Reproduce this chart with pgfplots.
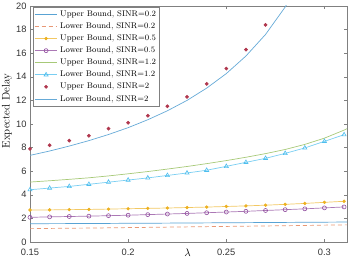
\documentclass[border=0pt]{standalone}
\usepackage{fontspec}
\setsansfont{Liberation Sans}
\usepackage{pgfplots}
\pgfplotsset{compat=1.18}
\definecolor{mblue}{rgb}{0,0.447,0.741}
\definecolor{morange}{rgb}{0.85,0.325,0.098}
\definecolor{myellow}{rgb}{0.929,0.694,0.125}
\definecolor{mpurple}{rgb}{0.494,0.184,0.556}
\definecolor{mgreen}{rgb}{0.466,0.674,0.188}
\definecolor{mcyan}{rgb}{0.301,0.745,0.933}
\definecolor{mred}{rgb}{0.635,0.078,0.184}
\begin{document}
\begin{tikzpicture}
\begin{axis}[
  scale only axis,
  width=317pt, height=236pt,
  xmin=0.15, xmax=0.3115, ymin=0, ymax=20,
  xtick={0.15,0.2,0.25,0.3},
  xticklabels={0.15,0.2,0.25,0.3},
  ytick={0,2,...,20},
  tick align=inside,
  major tick length=3pt,
  axis line style={black!50},
  tick style={black!50, line width=0.4pt},
  /pgf/number format/assume math mode=true,
  tick label style={font=\fontsize{9.3}{10}\sffamily\selectfont, text=black!80},
  xticklabel style={yshift=-3pt},
  xlabel={$\lambda$},
  ylabel={Expected Delay},
  label style={font=\fontsize{11}{12}\selectfont},
  xlabel style={at={(axis description cs:0.497,-0.047)}, anchor=center},
  ylabel style={at={(axis description cs:-0.073,0.555)}, anchor=center},
  legend cell align=left,
  legend style={at={(axis description cs:0.01,0.995)}, anchor=north west,
    font=\fontsize{8.2}{9}\selectfont, draw=black!50, inner sep=1pt,
    nodes={inner sep=2.4pt}},
  legend image code/.code={
    \draw[mark repeat=2,mark phase=2,#1] plot coordinates {(0cm,0cm) (0.4cm,0cm) (0.8cm,0cm)};},
  every axis plot/.append style={line width=0.7pt},
]
% Upper Bound SINR=0.2
\addplot[mblue!65!white, no marks] coordinates {
(0.15,1.55) (0.16,1.555) (0.17,1.56) (0.18,1.57) (0.19,1.575) (0.20,1.585) (0.21,1.59) (0.22,1.60) (0.23,1.61) (0.24,1.62) (0.25,1.63) (0.26,1.64) (0.27,1.65) (0.28,1.66) (0.29,1.67) (0.30,1.68) (0.31,1.69) (0.3115,1.69)};
\addlegendentry{Upper Bound, SINR=0.2}
% Lower Bound SINR=0.2
\addplot[morange!60!white, no marks, dashed, dash pattern=on 4pt off 3pt] coordinates {
(0.15,1.13) (0.16,1.15) (0.17,1.17) (0.18,1.18) (0.19,1.20) (0.20,1.22) (0.21,1.24) (0.22,1.26) (0.23,1.28) (0.24,1.30) (0.25,1.32) (0.26,1.34) (0.27,1.36) (0.28,1.38) (0.29,1.40) (0.30,1.43) (0.31,1.45) (0.3115,1.45)};
\addlegendentry{Lower Bound, SINR=0.2}
% Upper Bound SINR=0.5
\addplot[myellow!70!white, mark=*, mark size=1.3pt, mark options={fill=myellow, draw=myellow}] coordinates {
(0.15,2.71) (0.16,2.72) (0.17,2.74) (0.18,2.76) (0.19,2.79) (0.20,2.82) (0.21,2.85) (0.22,2.88) (0.23,2.92) (0.24,2.96) (0.25,3.01) (0.26,3.06) (0.27,3.12) (0.28,3.19) (0.29,3.27) (0.30,3.36) (0.31,3.45)};
\addlegendentry{Upper Bound, SINR=0.5}
% Lower Bound SINR=0.5
\addplot[mpurple!65!white, mark=o, mark size=2pt, mark options={draw=mpurple!85!white, line width=0.6pt}] coordinates {
(0.15,2.09) (0.16,2.13) (0.17,2.16) (0.18,2.19) (0.19,2.23) (0.20,2.27) (0.21,2.32) (0.22,2.37) (0.23,2.42) (0.24,2.48) (0.25,2.54) (0.26,2.60) (0.27,2.67) (0.28,2.74) (0.29,2.81) (0.30,2.89) (0.31,2.97)};
\addlegendentry{Lower Bound, SINR=0.5}
% Upper Bound SINR=1.2
\addplot[mgreen!65!white, no marks] coordinates {
(0.15,5.08) (0.16,5.19) (0.17,5.31) (0.18,5.44) (0.19,5.60) (0.20,5.78) (0.21,5.97) (0.22,6.18) (0.23,6.40) (0.24,6.64) (0.25,6.90) (0.26,7.18) (0.27,7.49) (0.28,7.84) (0.29,8.27) (0.30,8.80) (0.31,9.48) (0.3115,9.60)};
\addlegendentry{Upper Bound, SINR=1.2}
% Lower Bound SINR=1.2
\addplot[mcyan!75!white, mark=triangle, mark size=2.4pt, mark options={draw=mcyan, line width=0.6pt}] coordinates {
(0.15,4.43) (0.16,4.57) (0.17,4.71) (0.18,4.89) (0.19,5.07) (0.20,5.25) (0.21,5.43) (0.22,5.64) (0.23,5.85) (0.24,6.08) (0.25,6.41) (0.26,6.75) (0.27,7.09) (0.28,7.51) (0.29,7.97) (0.30,8.53) (0.31,9.09)};
\addlegendentry{Lower Bound, SINR=1.2}
% Upper Bound SINR=2
\addplot[only marks, mark=*, mark size=1.5pt, mark options={fill=mred!85!white, draw=mred!85!white}] coordinates {
(0.15,7.9) (0.16,8.2) (0.17,8.6) (0.18,9.0) (0.19,9.6) (0.20,10.1) (0.21,10.7) (0.22,11.5) (0.23,12.3) (0.24,13.4) (0.25,14.7) (0.26,16.3) (0.27,18.4)};
\addlegendentry{Upper Bound, SINR=2}
% Lower Bound SINR=2
\addplot[mblue!60!white, no marks] coordinates {
(0.15,7.34) (0.16,7.71) (0.17,8.13) (0.18,8.59) (0.19,9.11) (0.20,9.69) (0.21,10.36) (0.22,11.12) (0.23,12.00) (0.24,13.04) (0.25,14.27) (0.26,15.76) (0.27,17.59) (0.28,19.91) (0.29,22.93)};
\addlegendentry{Lower Bound, SINR=2}
\coordinate (SW) at (rel axis cs:0,0);
\coordinate (NE) at (rel axis cs:1,1);
\end{axis}
\pgfresetboundingbox
\path[use as bounding box] ([xshift=-30pt,yshift=-19pt]SW) rectangle ([xshift=3pt,yshift=6pt]NE);
\end{tikzpicture}
\end{document}
